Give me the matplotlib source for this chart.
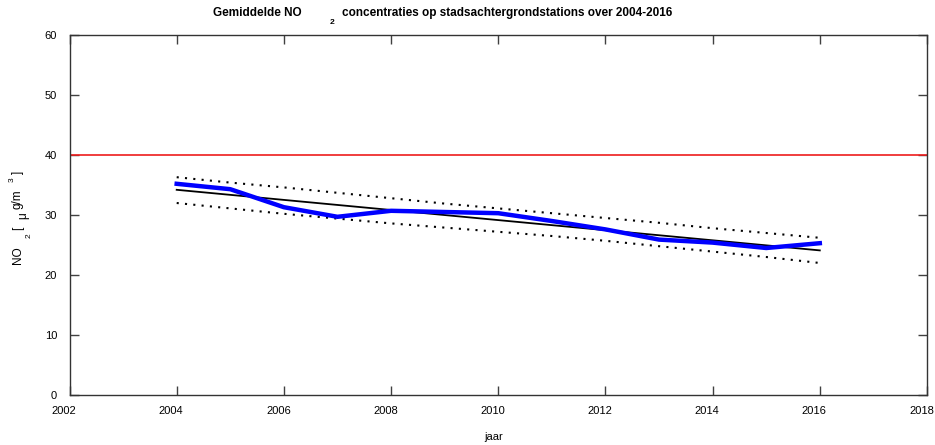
import matplotlib.pyplot as plt
from matplotlib.transforms import ScaledTranslation

plt.rcParams['font.family'] = ['Liberation Sans', 'DejaVu Sans']

# jaarlijkse gemiddelden (ug/m3)
years = [2004, 2005, 2006, 2007, 2008, 2009, 2010, 2011, 2012, 2013, 2014, 2015, 2016]
no2 = [35.2, 34.3, 31.3, 29.7, 30.7, 30.5, 30.3, 29.0, 27.6, 25.9, 25.4, 24.5, 25.3]

# trendlijn en betrouwbaarheidsband
trend_years = [2004, 2016]
trend = [34.2, 24.1]
band_upper = [36.3, 35.4, 34.6, 33.7, 32.8, 31.9, 31.1, 30.3, 29.5, 28.7, 27.8, 27.0, 26.2]
band_lower = [32.0, 31.1, 30.2, 29.4, 28.6, 27.9, 27.2, 26.5, 25.7, 24.8, 23.9, 23.0, 22.0]

norm = 40  # EU-grenswaarde

W, H = 935, 445
fig = plt.figure(figsize=(W / 100, H / 100), dpi=100)
ax = fig.add_axes([69.5 / W, 1 - 395 / H, (927 - 69.5) / W, 360 / H])

ax.axhline(norm, color='#ee1c1c', lw=1.2)
ax.plot(trend_years, trend, color='black', lw=1.3)
ax.plot(years, band_upper, color='black', lw=1.5, ls=(0, (1, 3)))
ax.plot(years, band_lower, color='black', lw=1.5, ls=(0, (1, 3)))
ax.plot(years, no2, color='#0000ff', lw=3.2, solid_joinstyle='round')

ax.set_xlim(2002, 2018)
ax.set_ylim(0, 60)
ax.set_xticks(range(2002, 2019, 2))
ax.set_yticks(range(0, 61, 10))
ax.tick_params(direction='in', top=True, right=True, length=6.5, width=1,
               color='#404040', labelsize=8)
ax.tick_params(axis='x', pad=8)
ax.tick_params(axis='y', pad=9)
for s in ax.spines.values():
    s.set_color('#333333')
    s.set_linewidth(1.0)

shift = ScaledTranslation(-4 / 72, 0, fig.dpi_scale_trans)
for lbl in ax.get_xticklabels():
    lbl.set_transform(lbl.get_transform() + shift)

fig.text(494 / W, 1 - 437 / H, 'jaar', fontsize=8, ha='center', va='center')

# y-as label in losse stukken (zoals origineel)
ylab = [('NO', 18, 255, 8.5), ('2', 29, 236, 6), ('[', 18, 228, 8.5),
        ('\u03bc', 23, 216, 8.5), ('g/m', 18, 199, 8.5), ('3', 12, 180, 6),
        (']', 18, 172, 8.5)]
for txt, px, py, fs in ylab:
    fig.text(px / W, 1 - py / H, txt, rotation=90, fontsize=fs,
             ha='center', va='center')

fig.text(213 / W, 1 - 13 / H, 'Gemiddelde NO', fontsize=8.5, fontweight='bold', va='center')
fig.text(332 / W, 1 - 22.5 / H, '2', fontsize=6, fontweight='bold', va='center', ha='center')
fig.text(342 / W, 1 - 13 / H, 'concentraties op stadsachtergrondstations over 2004-2016',
         fontsize=8.5, fontweight='bold', va='center')

fig.savefig('out.png', dpi=100)
